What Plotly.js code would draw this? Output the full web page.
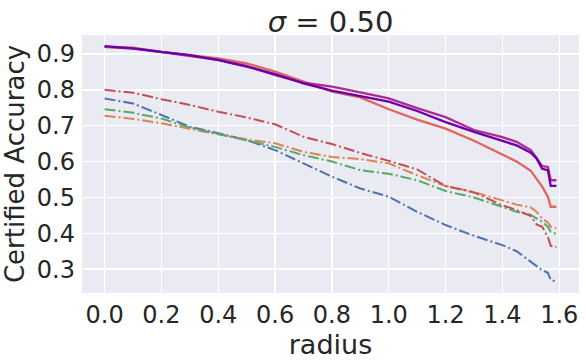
<!DOCTYPE html>
<html>
<head>
<meta charset="utf-8">
<script src="https://cdn.plot.ly/plotly-3.0.1.min.js"></script>
<style>html,body{margin:0;padding:0;background:#fff}#chart{width:586px;height:362px}</style>
</head>
<body>
<div id="chart"></div>
<script>
const radius = [0, 0.1, 0.2, 0.3, 0.4, 0.5, 0.6, 0.7, 0.8, 0.9, 1.0, 1.1, 1.2, 1.3, 1.4, 1.45, 1.5, 1.52, 1.54, 1.56, 1.57, 1.59];

const blueDashDot   = [0.776, 0.762, 0.730, 0.697, 0.679, 0.660, 0.632, 0.595, 0.558, 0.525, 0.502, 0.460, 0.423, 0.393, 0.367, 0.350, 0.320, 0.308, 0.297, 0.290, 0.270, 0.265];
const orangeDashDot = [0.728, 0.719, 0.707, 0.691, 0.676, 0.662, 0.651, 0.627, 0.613, 0.607, 0.595, 0.562, 0.532, 0.515, 0.492, 0.480, 0.472, 0.460, 0.441, 0.430, 0.418, 0.415];
const greenDashDot  = [0.746, 0.736, 0.720, 0.695, 0.677, 0.660, 0.641, 0.618, 0.600, 0.576, 0.566, 0.548, 0.518, 0.500, 0.474, 0.460, 0.451, 0.441, 0.432, 0.418, 0.404, 0.398];
const redDashDot    = [0.800, 0.792, 0.774, 0.758, 0.739, 0.723, 0.704, 0.669, 0.649, 0.624, 0.602, 0.578, 0.532, 0.514, 0.478, 0.465, 0.448, 0.425, 0.418, 0.390, 0.365, 0.362];
const salmonSolid   = [0.920, 0.918, 0.906, 0.898, 0.888, 0.874, 0.851, 0.823, 0.795, 0.779, 0.746, 0.717, 0.692, 0.658, 0.620, 0.600, 0.574, 0.553, 0.530, 0.502, 0.474, 0.474];
const magentaSolid  = [0.920, 0.915, 0.905, 0.895, 0.884, 0.867, 0.841, 0.820, 0.809, 0.793, 0.776, 0.749, 0.724, 0.688, 0.668, 0.655, 0.632, 0.610, 0.587, 0.585, 0.548, 0.548];
const purpleSolid   = [0.922, 0.916, 0.906, 0.897, 0.883, 0.865, 0.844, 0.818, 0.798, 0.783, 0.767, 0.741, 0.710, 0.683, 0.658, 0.645, 0.625, 0.609, 0.580, 0.576, 0.532, 0.532];

const xTicks = [0.0, 0.2, 0.4, 0.6, 0.8, 1.0, 1.2, 1.4, 1.6];
const yTicks = [0.3, 0.4, 0.5, 0.6, 0.7, 0.8, 0.9];

const dashDot = "11px,3px,2px,3px";
function tr(y, color, dash, w) {
  return {x: radius, y: y, type: "scatter", mode: "lines",
          line: {color: color, width: w, dash: dash}, hoverinfo: "skip"};
}
const data = [
  tr(blueDashDot,   "#4c72b0", dashDot, 2),
  tr(orangeDashDot, "#dd8452", dashDot, 2),
  tr(greenDashDot,  "#55a868", dashDot, 2),
  tr(redDashDot,    "#c44e52", dashDot, 2),
  tr(salmonSolid,   "#e16462", "solid", 2.3),
  tr(magentaSolid,  "#b12a90", "solid", 2.3),
  tr(purpleSolid,   "#6a00a8", "solid", 2.3)
];
const font = {family: "DejaVu Sans", color: "#262626"};
const layout = {
  width: 586, height: 362,
  margin: {l: 82, r: 7, t: 35, b: 69, pad: 0},
  paper_bgcolor: "#ffffff", plot_bgcolor: "#eaeaf2",
  showlegend: false,
  font: font,
  title: {text: "<i>σ</i> = 0.50", font: {family: "DejaVu Sans", size: 29, color: "#262626"},
          x: 0.5, xref: "paper", y: 0.94, yanchor: "middle"},
  xaxis: {range: [-0.0795, 1.6695], tickvals: xTicks, ticktext: xTicks.map(v => v.toFixed(1)),
          showgrid: true, gridcolor: "#ffffff", gridwidth: 1.4, zeroline: false, showline: false,
          ticks: "", ticklabelstandoff: 5,
          tickfont: {family: "DejaVu Sans", size: 24, color: "#262626"},
          title: {text: "radius", font: {family: "DejaVu Sans", size: 27, color: "#262626"}, standoff: 2}},
  yaxis: {range: [0.2335, 0.953], tickvals: yTicks, ticktext: yTicks.map(v => v.toFixed(1)),
          showgrid: true, gridcolor: "#ffffff", gridwidth: 1.4, zeroline: false, showline: false,
          ticks: "", ticklabelstandoff: 6,
          tickfont: {family: "DejaVu Sans", size: 24, color: "#262626"},
          title: {text: "Certified Accuracy", font: {family: "DejaVu Sans", size: 26, color: "#262626"}, standoff: 6}}
};
Plotly.newPlot("chart", data, layout, {staticPlot: true, displayModeBar: false});
</script>
</body>
</html>
